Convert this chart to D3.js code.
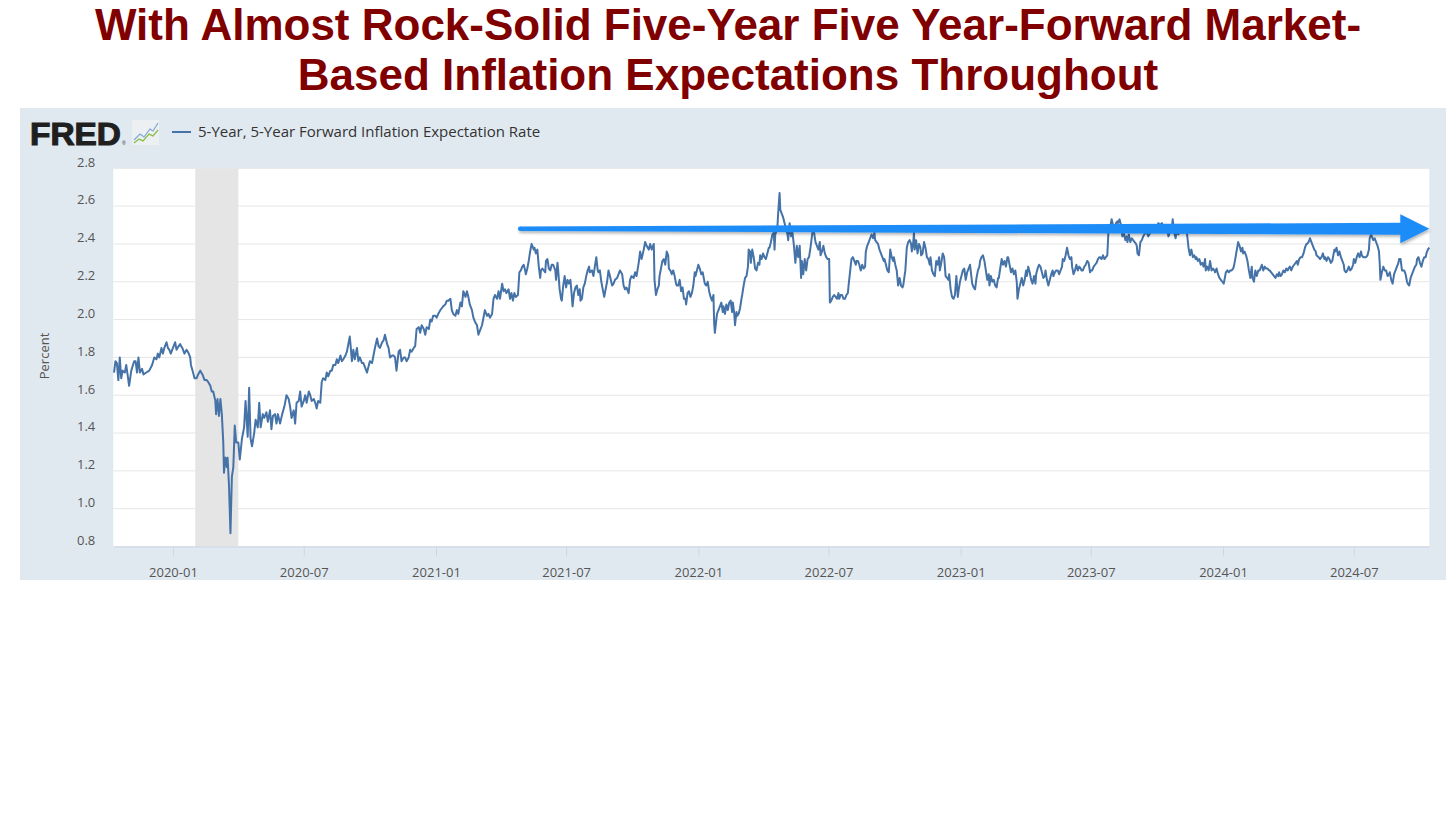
<!DOCTYPE html>
<html>
<head>
<meta charset="utf-8">
<script src="https://cdn.jsdelivr.net/npm/d3@7"></script>
<style>
  body { margin: 0; background: #fff; }
  .axis text { font-family: 'Open Sans', sans-serif; font-size: 13px; fill: #555; }
  .axis .domain { stroke: #ccd6eb; }
  .x.axis .tick line { stroke: #ccd6eb; }
</style>
</head>
<body>
<div class="chart-fred"></div>
<script>
// headline over the chart
const titleLines = [
  'With Almost Rock-Solid Five-Year Five Year-Forward Market-',
  'Based Inflation Expectations Throughout',
];

const seriesName = '5-Year, 5-Year Forward Inflation Expectation Rate';
const yLabel = 'Percent';

// axis ticks as shown
const yTicks = [0.8, 1.0, 1.2, 1.4, 1.6, 1.8, 2.0, 2.2, 2.4, 2.6, 2.8];
const xTickLabels = ['2020-01', '2020-07', '2021-01', '2021-07', '2022-01',
  '2022-07', '2023-01', '2023-07', '2024-01', '2024-07'];
const xDomain = ['2019-10-10', '2024-10-14'];

// shaded recession (start, end)
const recessions = [['2020-02-01', '2020-04-01']];

// hand-drawn arrow: from date to date at a level
const arrowFrom = ['2021-04-28', 2.48];
const arrowTo = ['2024-10-14', 2.48];

// T5YIFR (date, percent)
const observations = [
  ['2019-10-11', 1.72], ['2019-10-13', 1.78], ['2019-10-15', 1.77], ['2019-10-17', 1.68], ['2019-10-19', 1.80],
  ['2019-10-21', 1.69], ['2019-10-23', 1.73], ['2019-10-26', 1.72], ['2019-10-28', 1.76], ['2019-11-01', 1.65],
  ['2019-11-04', 1.73], ['2019-11-08', 1.78], ['2019-11-10', 1.78], ['2019-11-12', 1.72], ['2019-11-14', 1.80],
  ['2019-11-16', 1.72], ['2019-11-19', 1.74], ['2019-11-21', 1.71], ['2019-11-25', 1.72], ['2019-11-29', 1.73],
  ['2019-12-03', 1.76], ['2019-12-06', 1.80], ['2019-12-09', 1.79], ['2019-12-11', 1.82], ['2019-12-13', 1.80],
  ['2019-12-16', 1.85], ['2019-12-18', 1.82], ['2019-12-20', 1.85], ['2019-12-23', 1.88], ['2019-12-25', 1.85],
  ['2019-12-27', 1.84], ['2019-12-29', 1.82], ['2020-01-01', 1.85], ['2020-01-04', 1.88], ['2020-01-06', 1.84],
  ['2020-01-09', 1.86], ['2020-01-11', 1.87], ['2020-01-14', 1.85], ['2020-01-17', 1.82], ['2020-01-20', 1.84],
  ['2020-01-23', 1.82], ['2020-01-25', 1.80], ['2020-01-26', 1.76], ['2020-01-29', 1.72], ['2020-01-31', 1.69],
  ['2020-02-03', 1.69], ['2020-02-05', 1.71], ['2020-02-08', 1.73], ['2020-02-11', 1.71], ['2020-02-14', 1.68],
  ['2020-02-17', 1.68], ['2020-02-19', 1.67], ['2020-02-22', 1.65], ['2020-02-24', 1.62], ['2020-02-26', 1.62],
  ['2020-02-29', 1.57], ['2020-03-01', 1.50], ['2020-03-03', 1.58], ['2020-03-05', 1.49], ['2020-03-07', 1.58],
  ['2020-03-09', 1.50], ['2020-03-11', 1.35], ['2020-03-12', 1.19], ['2020-03-14', 1.27], ['2020-03-16', 1.22],
  ['2020-03-17', 1.27], ['2020-03-19', 1.12], ['2020-03-21', 0.87], ['2020-03-23', 1.17], ['2020-03-25', 1.22],
  ['2020-03-27', 1.44], ['2020-03-29', 1.35], ['2020-04-01', 1.35], ['2020-04-03', 1.26], ['2020-04-06', 1.37],
  ['2020-04-09', 1.43], ['2020-04-11', 1.57], ['2020-04-14', 1.38], ['2020-04-16', 1.64], ['2020-04-18', 1.37],
  ['2020-04-20', 1.33], ['2020-04-23', 1.40], ['2020-04-25', 1.47], ['2020-04-28', 1.43], ['2020-04-30', 1.56],
  ['2020-05-02', 1.43], ['2020-05-05', 1.50], ['2020-05-07', 1.48], ['2020-05-10', 1.51], ['2020-05-12', 1.46],
  ['2020-05-15', 1.52], ['2020-05-17', 1.42], ['2020-05-19', 1.49], ['2020-05-22', 1.50], ['2020-05-24', 1.45],
  ['2020-05-26', 1.50], ['2020-05-29', 1.45], ['2020-06-01', 1.50], ['2020-06-04', 1.54], ['2020-06-07', 1.60],
  ['2020-06-10', 1.58], ['2020-06-12', 1.54], ['2020-06-14', 1.48], ['2020-06-17', 1.52], ['2020-06-19', 1.45],
  ['2020-06-21', 1.56], ['2020-06-24', 1.57], ['2020-06-26', 1.62], ['2020-06-28', 1.54], ['2020-07-01', 1.57],
  ['2020-07-03', 1.60], ['2020-07-05', 1.56], ['2020-07-08', 1.62], ['2020-07-10', 1.60], ['2020-07-12', 1.57],
  ['2020-07-15', 1.58], ['2020-07-17', 1.56], ['2020-07-19', 1.53], ['2020-07-21', 1.57], ['2020-07-24', 1.56],
  ['2020-07-26', 1.67], ['2020-07-28', 1.69], ['2020-07-31', 1.68], ['2020-08-02', 1.72], ['2020-08-04', 1.70],
  ['2020-08-07', 1.73], ['2020-08-09', 1.73], ['2020-08-11', 1.76], ['2020-08-14', 1.76], ['2020-08-16', 1.79],
  ['2020-08-18', 1.77], ['2020-08-21', 1.81], ['2020-08-23', 1.78], ['2020-08-25', 1.79], ['2020-08-28', 1.81],
  ['2020-08-30', 1.83], ['2020-09-01', 1.87], ['2020-09-03', 1.91], ['2020-09-04', 1.87], ['2020-09-06', 1.78],
  ['2020-09-08', 1.84], ['2020-09-10', 1.79], ['2020-09-13', 1.85], ['2020-09-15', 1.78], ['2020-09-17', 1.80],
  ['2020-09-20', 1.77], ['2020-09-22', 1.77], ['2020-09-24', 1.75], ['2020-09-27', 1.72], ['2020-09-29', 1.75],
  ['2020-10-01', 1.78], ['2020-10-04', 1.77], ['2020-10-06', 1.81], ['2020-10-08', 1.85], ['2020-10-11', 1.90],
  ['2020-10-13', 1.86], ['2020-10-15', 1.85], ['2020-10-18', 1.88], ['2020-10-20', 1.89], ['2020-10-22', 1.92],
  ['2020-10-25', 1.87], ['2020-10-27', 1.85], ['2020-10-29', 1.80], ['2020-11-01', 1.81], ['2020-11-03', 1.81],
  ['2020-11-05', 1.80], ['2020-11-07', 1.73], ['2020-11-10', 1.83], ['2020-11-12', 1.84], ['2020-11-14', 1.78],
  ['2020-11-17', 1.80], ['2020-11-19', 1.80], ['2020-11-21', 1.78], ['2020-11-24', 1.80], ['2020-11-26', 1.84],
  ['2020-11-28', 1.83], ['2020-12-01', 1.85], ['2020-12-03', 1.86], ['2020-12-05', 1.95], ['2020-12-08', 1.96],
  ['2020-12-10', 1.93], ['2020-12-12', 1.97], ['2020-12-15', 1.95], ['2020-12-17', 1.92], ['2020-12-19', 1.96],
  ['2020-12-22', 1.95], ['2020-12-24', 2.00], ['2020-12-26', 1.99], ['2020-12-28', 2.02], ['2020-12-31', 2.02],
  ['2021-01-02', 2.01], ['2021-01-04', 2.03], ['2021-01-07', 2.05], ['2021-01-09', 2.06], ['2021-01-11', 2.07],
  ['2021-01-14', 2.08], ['2021-01-16', 2.10], ['2021-01-18', 2.10], ['2021-01-21', 2.11], ['2021-01-23', 2.05],
  ['2021-01-25', 2.03], ['2021-01-28', 2.02], ['2021-01-30', 2.05], ['2021-02-01', 2.03], ['2021-02-04', 2.09],
  ['2021-02-06', 2.07], ['2021-02-08', 2.15], ['2021-02-11', 2.12], ['2021-02-13', 2.15], ['2021-02-15', 2.12],
  ['2021-02-17', 2.08], ['2021-02-20', 2.05], ['2021-02-22', 2.01], ['2021-02-24', 1.99], ['2021-02-27', 1.97],
  ['2021-03-01', 1.92], ['2021-03-03', 1.94], ['2021-03-06', 1.97], ['2021-03-08', 2.01], ['2021-03-10', 2.05],
  ['2021-03-13', 2.02], ['2021-03-15', 2.03], ['2021-03-17', 2.01], ['2021-03-20', 2.03], ['2021-03-22', 2.11],
  ['2021-03-24', 2.13], ['2021-03-27', 2.11], ['2021-03-29', 2.15], ['2021-03-31', 2.11], ['2021-04-03', 2.19],
  ['2021-04-05', 2.15], ['2021-04-07', 2.16], ['2021-04-09', 2.14], ['2021-04-12', 2.16], ['2021-04-14', 2.11],
  ['2021-04-16', 2.14], ['2021-04-18', 2.10], ['2021-04-20', 2.14], ['2021-04-22', 2.12], ['2021-04-25', 2.13],
  ['2021-04-27', 2.25], ['2021-04-29', 2.26], ['2021-05-01', 2.28], ['2021-05-03', 2.29], ['2021-05-05', 2.26],
  ['2021-05-06', 2.24], ['2021-05-08', 2.27], ['2021-05-10', 2.31], ['2021-05-12', 2.36], ['2021-05-14', 2.40],
  ['2021-05-17', 2.37], ['2021-05-18', 2.38], ['2021-05-20', 2.35], ['2021-05-22', 2.37], ['2021-05-24', 2.28],
  ['2021-05-26', 2.22], ['2021-05-27', 2.26], ['2021-05-29', 2.27], ['2021-05-31', 2.26], ['2021-06-02', 2.25],
  ['2021-06-03', 2.31], ['2021-06-05', 2.32], ['2021-06-07', 2.27], ['2021-06-09', 2.26], ['2021-06-11', 2.29],
  ['2021-06-13', 2.29], ['2021-06-16', 2.26], ['2021-06-17', 2.21], ['2021-06-19', 2.30], ['2021-06-20', 2.26],
  ['2021-06-22', 2.16], ['2021-06-24', 2.11], ['2021-06-25', 2.10], ['2021-06-27', 2.18], ['2021-06-29', 2.23],
  ['2021-07-01', 2.17], ['2021-07-03', 2.21], ['2021-07-05', 2.19], ['2021-07-07', 2.21], ['2021-07-09', 2.12],
  ['2021-07-10', 2.07], ['2021-07-12', 2.14], ['2021-07-14', 2.17], ['2021-07-16', 2.18], ['2021-07-18', 2.13],
  ['2021-07-20', 2.16], ['2021-07-21', 2.10], ['2021-07-23', 2.11], ['2021-07-25', 2.17], ['2021-07-27', 2.19],
  ['2021-07-29', 2.23], ['2021-07-31', 2.26], ['2021-08-02', 2.28], ['2021-08-03', 2.25], ['2021-08-06', 2.26],
  ['2021-08-08', 2.23], ['2021-08-10', 2.28], ['2021-08-12', 2.33], ['2021-08-14', 2.26], ['2021-08-15', 2.25],
  ['2021-08-17', 2.26], ['2021-08-19', 2.20], ['2021-08-21', 2.16], ['2021-08-23', 2.12], ['2021-08-25', 2.16],
  ['2021-08-27', 2.20], ['2021-08-29', 2.26], ['2021-08-31', 2.23], ['2021-09-03', 2.18], ['2021-09-05', 2.19],
  ['2021-09-07', 2.21], ['2021-09-10', 2.22], ['2021-09-12', 2.24], ['2021-09-14', 2.26], ['2021-09-17', 2.24],
  ['2021-09-19', 2.18], ['2021-09-21', 2.16], ['2021-09-23', 2.17], ['2021-09-26', 2.14], ['2021-09-28', 2.21],
  ['2021-09-30', 2.23], ['2021-10-03', 2.22], ['2021-10-05', 2.25], ['2021-10-07', 2.23], ['2021-10-10', 2.30],
  ['2021-10-12', 2.36], ['2021-10-14', 2.32], ['2021-10-17', 2.37], ['2021-10-19', 2.41], ['2021-10-21', 2.39],
  ['2021-10-24', 2.37], ['2021-10-26', 2.40], ['2021-10-28', 2.37], ['2021-10-31', 2.40], ['2021-11-01', 2.21],
  ['2021-11-03', 2.13], ['2021-11-05', 2.16], ['2021-11-07', 2.18], ['2021-11-08', 2.23], ['2021-11-10', 2.27],
  ['2021-11-12', 2.31], ['2021-11-14', 2.32], ['2021-11-16', 2.29], ['2021-11-18', 2.36], ['2021-11-20', 2.34],
  ['2021-11-21', 2.27], ['2021-11-23', 2.26], ['2021-11-25', 2.24], ['2021-11-27', 2.26], ['2021-11-29', 2.23],
  ['2021-12-01', 2.19], ['2021-12-02', 2.18], ['2021-12-04', 2.18], ['2021-12-06', 2.21], ['2021-12-08', 2.15],
  ['2021-12-10', 2.17], ['2021-12-12', 2.11], ['2021-12-14', 2.11], ['2021-12-15', 2.08], ['2021-12-17', 2.14],
  ['2021-12-19', 2.15], ['2021-12-21', 2.12], ['2021-12-23', 2.14], ['2021-12-25', 2.18], ['2021-12-27', 2.25],
  ['2021-12-28', 2.23], ['2021-12-30', 2.26], ['2022-01-01', 2.29], ['2022-01-03', 2.27], ['2022-01-05', 2.24],
  ['2022-01-07', 2.25], ['2022-01-09', 2.21], ['2022-01-10', 2.19], ['2022-01-12', 2.18], ['2022-01-14', 2.20],
  ['2022-01-16', 2.15], ['2022-01-18', 2.12], ['2022-01-20', 2.10], ['2022-01-22', 2.13], ['2022-01-23', 1.98],
  ['2022-01-24', 1.93], ['2022-01-26', 2.00], ['2022-01-27', 2.03], ['2022-01-29', 2.05], ['2022-01-31', 2.07],
  ['2022-02-02', 2.09], ['2022-02-04', 2.04], ['2022-02-05', 2.07], ['2022-02-07', 2.03], ['2022-02-09', 2.08],
  ['2022-02-11', 2.05], ['2022-02-13', 2.09], ['2022-02-15', 2.10], ['2022-02-17', 2.04], ['2022-02-18', 2.09],
  ['2022-02-20', 2.03], ['2022-02-21', 1.97], ['2022-02-23', 2.04], ['2022-02-24', 2.02], ['2022-02-26', 2.03],
  ['2022-02-28', 2.06], ['2022-03-02', 2.11], ['2022-03-03', 2.13], ['2022-03-05', 2.18], ['2022-03-07', 2.22],
  ['2022-03-09', 2.23], ['2022-03-11', 2.28], ['2022-03-12', 2.37], ['2022-03-14', 2.36], ['2022-03-15', 2.30],
  ['2022-03-17', 2.37], ['2022-03-19', 2.33], ['2022-03-21', 2.27], ['2022-03-23', 2.26], ['2022-03-25', 2.30],
  ['2022-03-27', 2.29], ['2022-03-28', 2.34], ['2022-03-30', 2.32], ['2022-04-01', 2.35], ['2022-04-03', 2.33],
  ['2022-04-05', 2.32], ['2022-04-07', 2.35], ['2022-04-09', 2.38], ['2022-04-10', 2.38], ['2022-04-12', 2.41],
  ['2022-04-14', 2.45], ['2022-04-16', 2.46], ['2022-04-17', 2.37], ['2022-04-18', 2.45], ['2022-04-20', 2.47],
  ['2022-04-21', 2.49], ['2022-04-22', 2.56], ['2022-04-24', 2.67], ['2022-04-25', 2.58], ['2022-04-27', 2.56],
  ['2022-04-29', 2.54], ['2022-05-01', 2.51], ['2022-05-03', 2.48], ['2022-05-05', 2.45], ['2022-05-06', 2.42],
  ['2022-05-08', 2.51], ['2022-05-10', 2.44], ['2022-05-12', 2.46], ['2022-05-14', 2.39], ['2022-05-16', 2.30],
  ['2022-05-18', 2.39], ['2022-05-20', 2.33], ['2022-05-22', 2.39], ['2022-05-24', 2.22], ['2022-05-25', 2.31],
  ['2022-05-27', 2.24], ['2022-05-29', 2.32], ['2022-05-31', 2.26], ['2022-06-02', 2.32], ['2022-06-04', 2.33],
  ['2022-06-06', 2.38], ['2022-06-07', 2.41], ['2022-06-09', 2.47], ['2022-06-11', 2.46], ['2022-06-13', 2.41],
  ['2022-06-15', 2.39], ['2022-06-17', 2.37], ['2022-06-19', 2.41], ['2022-06-20', 2.34], ['2022-06-22', 2.36],
  ['2022-06-24', 2.39], ['2022-06-26', 2.35], ['2022-06-28', 2.33], ['2022-06-30', 2.32], ['2022-07-02', 2.32],
  ['2022-07-03', 2.09], ['2022-07-05', 2.10], ['2022-07-07', 2.12], ['2022-07-09', 2.13], ['2022-07-11', 2.12],
  ['2022-07-13', 2.11], ['2022-07-15', 2.14], ['2022-07-16', 2.11], ['2022-07-18', 2.13], ['2022-07-20', 2.13],
  ['2022-07-22', 2.11], ['2022-07-24', 2.11], ['2022-07-26', 2.13], ['2022-07-28', 2.14], ['2022-07-29', 2.18],
  ['2022-07-31', 2.25], ['2022-08-02', 2.32], ['2022-08-04', 2.33], ['2022-08-06', 2.31], ['2022-08-08', 2.29],
  ['2022-08-09', 2.31], ['2022-08-11', 2.31], ['2022-08-13', 2.29], ['2022-08-15', 2.26], ['2022-08-17', 2.29],
  ['2022-08-19', 2.27], ['2022-08-21', 2.28], ['2022-08-22', 2.36], ['2022-08-24', 2.39], ['2022-08-26', 2.41],
  ['2022-08-28', 2.43], ['2022-08-30', 2.45], ['2022-09-01', 2.43], ['2022-09-03', 2.46], ['2022-09-04', 2.42],
  ['2022-09-06', 2.41], ['2022-09-08', 2.40], ['2022-09-10', 2.37], ['2022-09-12', 2.35], ['2022-09-14', 2.33],
  ['2022-09-16', 2.31], ['2022-09-17', 2.32], ['2022-09-19', 2.29], ['2022-09-21', 2.26], ['2022-09-23', 2.25],
  ['2022-09-25', 2.37], ['2022-09-27', 2.33], ['2022-09-29', 2.31], ['2022-09-30', 2.33], ['2022-10-02', 2.29],
  ['2022-10-04', 2.26], ['2022-10-06', 2.18], ['2022-10-08', 2.22], ['2022-10-10', 2.18], ['2022-10-12', 2.17],
  ['2022-10-13', 2.18], ['2022-10-16', 2.26], ['2022-10-18', 2.38], ['2022-10-20', 2.41], ['2022-10-22', 2.42],
  ['2022-10-24', 2.40], ['2022-10-25', 2.36], ['2022-10-27', 2.41], ['2022-10-28', 2.46], ['2022-10-29', 2.37],
  ['2022-10-31', 2.42], ['2022-11-02', 2.35], ['2022-11-04', 2.40], ['2022-11-06', 2.38], ['2022-11-07', 2.34],
  ['2022-11-09', 2.35], ['2022-11-11', 2.41], ['2022-11-13', 2.38], ['2022-11-15', 2.33], ['2022-11-17', 2.32],
  ['2022-11-19', 2.29], ['2022-11-20', 2.33], ['2022-11-22', 2.26], ['2022-11-24', 2.24], ['2022-11-26', 2.23],
  ['2022-11-28', 2.31], ['2022-11-30', 2.29], ['2022-12-02', 2.33], ['2022-12-03', 2.26], ['2022-12-05', 2.30],
  ['2022-12-07', 2.35], ['2022-12-09', 2.33], ['2022-12-11', 2.23], ['2022-12-13', 2.22], ['2022-12-15', 2.21],
  ['2022-12-16', 2.24], ['2022-12-18', 2.16], ['2022-12-20', 2.12], ['2022-12-22', 2.11], ['2022-12-24', 2.13],
  ['2022-12-26', 2.23], ['2022-12-28', 2.12], ['2022-12-29', 2.15], ['2022-12-31', 2.20], ['2023-01-02', 2.23],
  ['2023-01-04', 2.26], ['2023-01-06', 2.27], ['2023-01-08', 2.21], ['2023-01-10', 2.25], ['2023-01-12', 2.27],
  ['2023-01-14', 2.29], ['2023-01-17', 2.19], ['2023-01-19', 2.17], ['2023-01-21', 2.16], ['2023-01-23', 2.22],
  ['2023-01-25', 2.26], ['2023-01-27', 2.28], ['2023-01-28', 2.31], ['2023-01-30', 2.33], ['2023-02-01', 2.34],
  ['2023-02-03', 2.31], ['2023-02-05', 2.26], ['2023-02-07', 2.21], ['2023-02-09', 2.24], ['2023-02-10', 2.18],
  ['2023-02-12', 2.23], ['2023-02-14', 2.20], ['2023-02-16', 2.21], ['2023-02-18', 2.18], ['2023-02-20', 2.17],
  ['2023-02-22', 2.22], ['2023-02-23', 2.22], ['2023-02-25', 2.27], ['2023-02-27', 2.32], ['2023-03-01', 2.29],
  ['2023-03-03', 2.31], ['2023-03-05', 2.28], ['2023-03-07', 2.33], ['2023-03-08', 2.33], ['2023-03-10', 2.29],
  ['2023-03-12', 2.25], ['2023-03-14', 2.27], ['2023-03-16', 2.24], ['2023-03-18', 2.26], ['2023-03-20', 2.20],
  ['2023-03-21', 2.11], ['2023-03-23', 2.16], ['2023-03-25', 2.19], ['2023-03-27', 2.22], ['2023-03-29', 2.18],
  ['2023-03-31', 2.21], ['2023-04-02', 2.26], ['2023-04-03', 2.23], ['2023-04-05', 2.28], ['2023-04-07', 2.25],
  ['2023-04-09', 2.21], ['2023-04-11', 2.19], ['2023-04-13', 2.23], ['2023-04-15', 2.19], ['2023-04-16', 2.24],
  ['2023-04-18', 2.27], ['2023-04-20', 2.29], ['2023-04-22', 2.28], ['2023-04-24', 2.25], ['2023-04-26', 2.22],
  ['2023-04-28', 2.23], ['2023-04-29', 2.26], ['2023-05-01', 2.21], ['2023-05-03', 2.18], ['2023-05-05', 2.21],
  ['2023-05-07', 2.24], ['2023-05-09', 2.26], ['2023-05-10', 2.23], ['2023-05-12', 2.25], ['2023-05-14', 2.26],
  ['2023-05-16', 2.26], ['2023-05-18', 2.24], ['2023-05-20', 2.26], ['2023-05-22', 2.28], ['2023-05-23', 2.32],
  ['2023-05-25', 2.31], ['2023-05-27', 2.34], ['2023-05-29', 2.38], ['2023-05-31', 2.34], ['2023-06-02', 2.32],
  ['2023-06-04', 2.33], ['2023-06-05', 2.28], ['2023-06-07', 2.24], ['2023-06-09', 2.26], ['2023-06-11', 2.29],
  ['2023-06-13', 2.26], ['2023-06-15', 2.28], ['2023-06-17', 2.27], ['2023-06-18', 2.26], ['2023-06-20', 2.26],
  ['2023-06-22', 2.28], ['2023-06-24', 2.29], ['2023-06-26', 2.31], ['2023-06-28', 2.30], ['2023-06-30', 2.25],
  ['2023-07-01', 2.26], ['2023-07-03', 2.26], ['2023-07-05', 2.28], ['2023-07-07', 2.29], ['2023-07-09', 2.30],
  ['2023-07-11', 2.32], ['2023-07-13', 2.33], ['2023-07-14', 2.33], ['2023-07-16', 2.32], ['2023-07-18', 2.34],
  ['2023-07-20', 2.32], ['2023-07-22', 2.33], ['2023-07-24', 2.34], ['2023-07-26', 2.50], ['2023-07-27', 2.47],
  ['2023-07-29', 2.51], ['2023-07-30', 2.53], ['2023-08-01', 2.50], ['2023-08-03', 2.48], ['2023-08-05', 2.51],
  ['2023-08-07', 2.52], ['2023-08-08', 2.51], ['2023-08-10', 2.53], ['2023-08-12', 2.50], ['2023-08-14', 2.44],
  ['2023-08-16', 2.46], ['2023-08-18', 2.42], ['2023-08-20', 2.44], ['2023-08-21', 2.41], ['2023-08-23', 2.45],
  ['2023-08-25', 2.41], ['2023-08-27', 2.43], ['2023-08-29', 2.42], ['2023-08-31', 2.41], ['2023-09-02', 2.40],
  ['2023-09-03', 2.39], ['2023-09-04', 2.35], ['2023-09-06', 2.34], ['2023-09-08', 2.41], ['2023-09-10', 2.42],
  ['2023-09-12', 2.44], ['2023-09-15', 2.46], ['2023-09-17', 2.46], ['2023-09-19', 2.44], ['2023-09-22', 2.46],
  ['2023-09-24', 2.48], ['2023-09-26', 2.47], ['2023-09-29', 2.48], ['2023-10-01', 2.48], ['2023-10-03', 2.51],
  ['2023-10-05', 2.50], ['2023-10-08', 2.51], ['2023-10-10', 2.49], ['2023-10-12', 2.48], ['2023-10-15', 2.49],
  ['2023-10-17', 2.44], ['2023-10-19', 2.46], ['2023-10-22', 2.49], ['2023-10-23', 2.53], ['2023-10-25', 2.46],
  ['2023-10-27', 2.43], ['2023-10-29', 2.48], ['2023-10-31', 2.45], ['2023-11-01', 2.48], ['2023-11-03', 2.46],
  ['2023-11-05', 2.47], ['2023-11-07', 2.46], ['2023-11-09', 2.47], ['2023-11-11', 2.46], ['2023-11-12', 2.45],
  ['2023-11-14', 2.38], ['2023-11-16', 2.34], ['2023-11-18', 2.37], ['2023-11-20', 2.33], ['2023-11-22', 2.34],
  ['2023-11-24', 2.32], ['2023-11-25', 2.33], ['2023-11-27', 2.31], ['2023-11-29', 2.32], ['2023-12-01', 2.29],
  ['2023-12-03', 2.30], ['2023-12-05', 2.28], ['2023-12-07', 2.32], ['2023-12-08', 2.26], ['2023-12-10', 2.28],
  ['2023-12-12', 2.26], ['2023-12-14', 2.31], ['2023-12-16', 2.26], ['2023-12-18', 2.27], ['2023-12-20', 2.26],
  ['2023-12-21', 2.25], ['2023-12-23', 2.27], ['2023-12-25', 2.24], ['2023-12-27', 2.22], ['2023-12-29', 2.21],
  ['2023-12-31', 2.20], ['2024-01-02', 2.19], ['2024-01-03', 2.21], ['2024-01-05', 2.25], ['2024-01-07', 2.26],
  ['2024-01-09', 2.25], ['2024-01-11', 2.26], ['2024-01-13', 2.26], ['2024-01-15', 2.27], ['2024-01-16', 2.28],
  ['2024-01-18', 2.32], ['2024-01-22', 2.41], ['2024-01-24', 2.39], ['2024-01-26', 2.36], ['2024-01-28', 2.38],
  ['2024-01-29', 2.35], ['2024-01-31', 2.36], ['2024-02-02', 2.34], ['2024-02-04', 2.31], ['2024-02-06', 2.26],
  ['2024-02-08', 2.22], ['2024-02-10', 2.28], ['2024-02-11', 2.22], ['2024-02-13', 2.20], ['2024-02-15', 2.26],
  ['2024-02-17', 2.23], ['2024-02-19', 2.26], ['2024-02-21', 2.26], ['2024-02-23', 2.28], ['2024-02-24', 2.29],
  ['2024-02-26', 2.26], ['2024-02-28', 2.28], ['2024-03-01', 2.27], ['2024-03-03', 2.27], ['2024-03-05', 2.26],
  ['2024-03-06', 2.26], ['2024-03-08', 2.25], ['2024-03-10', 2.24], ['2024-03-12', 2.23], ['2024-03-14', 2.22],
  ['2024-03-16', 2.24], ['2024-03-18', 2.23], ['2024-03-19', 2.25], ['2024-03-21', 2.23], ['2024-03-23', 2.24],
  ['2024-03-25', 2.26], ['2024-03-27', 2.25], ['2024-03-29', 2.27], ['2024-03-31', 2.26], ['2024-04-01', 2.27],
  ['2024-04-03', 2.28], ['2024-04-05', 2.26], ['2024-04-07', 2.28], ['2024-04-09', 2.29], ['2024-04-11', 2.30],
  ['2024-04-13', 2.31], ['2024-04-14', 2.29], ['2024-04-16', 2.32], ['2024-04-18', 2.33], ['2024-04-20', 2.33],
  ['2024-04-22', 2.35], ['2024-04-24', 2.38], ['2024-04-26', 2.40], ['2024-04-27', 2.40], ['2024-04-29', 2.41],
  ['2024-05-01', 2.43], ['2024-05-03', 2.41], ['2024-05-05', 2.39], ['2024-05-07', 2.37], ['2024-05-09', 2.36],
  ['2024-05-10', 2.34], ['2024-05-13', 2.33], ['2024-05-15', 2.32], ['2024-05-17', 2.33], ['2024-05-19', 2.35],
  ['2024-05-21', 2.32], ['2024-05-22', 2.33], ['2024-05-24', 2.31], ['2024-05-26', 2.33], ['2024-05-28', 2.32],
  ['2024-05-30', 2.30], ['2024-06-01', 2.31], ['2024-06-04', 2.37], ['2024-06-05', 2.36], ['2024-06-07', 2.38],
  ['2024-06-09', 2.34], ['2024-06-11', 2.36], ['2024-06-13', 2.33], ['2024-06-15', 2.31], ['2024-06-17', 2.29],
  ['2024-06-18', 2.26], ['2024-06-20', 2.25], ['2024-06-22', 2.26], ['2024-06-24', 2.28], ['2024-06-26', 2.26],
  ['2024-06-28', 2.27], ['2024-06-30', 2.29], ['2024-07-01', 2.32], ['2024-07-03', 2.30], ['2024-07-05', 2.33],
  ['2024-07-07', 2.35], ['2024-07-09', 2.33], ['2024-07-11', 2.36], ['2024-07-12', 2.34], ['2024-07-14', 2.33],
  ['2024-07-16', 2.33], ['2024-07-18', 2.33], ['2024-07-20', 2.34], ['2024-07-22', 2.37], ['2024-07-23', 2.43],
  ['2024-07-25', 2.45], ['2024-07-26', 2.44], ['2024-07-28', 2.42], ['2024-07-30', 2.43], ['2024-08-01', 2.41],
  ['2024-08-03', 2.39], ['2024-08-05', 2.36], ['2024-08-06', 2.30], ['2024-08-07', 2.21], ['2024-08-09', 2.25],
  ['2024-08-11', 2.28], ['2024-08-13', 2.26], ['2024-08-15', 2.26], ['2024-08-17', 2.23], ['2024-08-19', 2.24],
  ['2024-08-20', 2.25], ['2024-08-22', 2.21], ['2024-08-24', 2.19], ['2024-08-26', 2.24], ['2024-08-28', 2.26],
  ['2024-08-30', 2.28], ['2024-09-01', 2.30], ['2024-09-02', 2.32], ['2024-09-04', 2.32], ['2024-09-06', 2.26],
  ['2024-09-09', 2.26], ['2024-09-11', 2.24], ['2024-09-13', 2.20], ['2024-09-14', 2.19], ['2024-09-16', 2.18],
  ['2024-09-18', 2.22], ['2024-09-20', 2.24], ['2024-09-22', 2.26], ['2024-09-24', 2.28], ['2024-09-26', 2.29],
  ['2024-09-27', 2.32], ['2024-09-29', 2.33], ['2024-10-01', 2.30], ['2024-10-03', 2.28], ['2024-10-05', 2.31],
  ['2024-10-07', 2.33], ['2024-10-09', 2.33], ['2024-10-10', 2.35], ['2024-10-12', 2.37], ['2024-10-14', 2.38],
];

const parseDate = d3.timeParse('%Y-%m-%d');
const parseMonth = d3.timeParse('%Y-%m');

function createChart(divName, data, margin, widthBase, heightBase) {
  const width = widthBase - margin.left - margin.right,
    height = heightBase - margin.top - margin.bottom;

  var root = d3.select(`.${divName}`).append('svg')
    .attr('width', 1456)
    .attr('height', 822);

  var defs = root.append('defs');
  defs.append('filter')
    .attr('id', 'arrow-shadow')
    .attr('x', '-5%').attr('y', '-50%')
    .attr('width', '110%').attr('height', '200%')
    .append('feDropShadow')
    .attr('dx', 1).attr('dy', 2)
    .attr('stdDeviation', 1.6)
    .attr('flood-color', '#000')
    .attr('flood-opacity', 0.3);

  // headline, first baseline low enough to keep the ascent on the page
  root.selectAll('.headline')
    .data(titleLines)
    .enter()
    .append('text')
    .attr('class', 'headline')
    .attr('x', 728)
    .attr('y', (d, i) => 40 + i * 50)
    .attr('text-anchor', 'middle')
    .style('font-family', "'Liberation Sans', Arial, sans-serif")
    .style('font-weight', 'bold')
    .style('font-size', '44px')
    .style('fill', '#800000')
    .text((d) => d);

  // fred panel
  root.append('rect')
    .attr('x', 20)
    .attr('y', 108)
    .attr('width', 1426)
    .attr('height', 472)
    .attr('fill', '#e1e9f0');

  // logo
  root.append('text')
    .attr('x', 30)
    .attr('y', 145)
    .attr('textLength', 91)
    .attr('lengthAdjust', 'spacingAndGlyphs')
    .style('font-family', "'Liberation Sans', Arial, sans-serif")
    .style('font-weight', 'bold')
    .style('font-size', '31px')
    .style('fill', '#1f1f1f')
    .style('stroke', '#1f1f1f')
    .style('stroke-width', 1.1)
    .text('FRED');
  root.append('text')
    .attr('x', 122)
    .attr('y', 145)
    .style('font-family', "'Liberation Sans', Arial, sans-serif")
    .style('font-size', '5px')
    .style('fill', '#1f1f1f')
    .text('®');

  var icon = root.append('g').attr('transform', 'translate(132,120)');
  icon.append('rect')
    .attr('width', 27).attr('height', 25)
    .attr('fill', '#edf0f3');
  icon.append('path')
    .attr('d', 'M2,20 L8,14 L12,17 L18,9 L21,11 L26,3')
    .attr('fill', 'none').attr('stroke', '#7fa6d8').attr('stroke-width', 1.2);
  icon.append('path')
    .attr('d', 'M2,23 L7,19 L11,21 L17,14 L21,16 L26,10')
    .attr('fill', 'none').attr('stroke', '#8cbf4a').attr('stroke-width', 1.4);

  // legend
  root.append('line')
    .attr('x1', 172).attr('x2', 191)
    .attr('y1', 132).attr('y2', 132)
    .attr('stroke', '#4572a7')
    .attr('stroke-width', 2);
  root.append('text')
    .attr('x', 198)
    .attr('y', 137)
    .style('font-family', "'Open Sans', sans-serif")
    .style('font-size', '15px')
    .style('fill', '#333')
    .text(seriesName);

  var svg = root.append('g')
    .attr('transform', 'translate(' + margin.left + ',' + margin.top + ')');

  var x = d3.scaleTime()
    .range([0, width])
    .domain(xDomain.map(parseDate));

  var y = d3.scaleLinear()
    .range([height, 0])
    .domain([d3.min(yTicks), d3.max(yTicks)]);

  // white plot area
  svg.append('rect')
    .attr('width', width)
    .attr('height', height)
    .attr('fill', '#fff');

  // gridlines
  svg.selectAll('.grid')
    .data(yTicks)
    .enter()
    .append('line')
    .attr('class', 'grid')
    .attr('x1', 0)
    .attr('x2', width)
    .attr('y1', (d) => y(d))
    .attr('y2', (d) => y(d))
    .attr('stroke', '#e6e6e6')
    .attr('stroke-width', 1);

  // recession shading
  svg.selectAll('.recession')
    .data(recessions)
    .enter()
    .append('rect')
    .attr('class', 'recession')
    .attr('x', (d) => x(parseDate(d[0])))
    .attr('width', (d) => x(parseDate(d[1])) - x(parseDate(d[0])))
    .attr('y', 0)
    .attr('height', height)
    .attr('fill', '#e5e5e5');

  //y axis, labels sit just above the gridline
  var yAxis = d3.axisLeft()
    .scale(y)
    .tickValues(yTicks)
    .tickFormat(d3.format('.1f'))
    .tickSize(0)
    .tickPadding(18);

  svg.append('g')
    .attr('class', 'y axis')
    .call(yAxis)
    .call((g) => g.select('.domain').remove())
    .selectAll('text')
    .attr('dy', '-0.17em');

  var xAxis = d3.axisBottom()
    .scale(x)
    .tickValues(xTickLabels.map(parseMonth))
    .tickFormat(d3.timeFormat('%Y-%m'))
    .tickSizeInner(10)
    .tickSizeOuter(0)
    .tickPadding(11);

  svg.append('g')
    .attr('class', 'x axis')
    .attr('transform', 'translate(0,' + height + ')')
    .call(xAxis);

  svg.append('text')
    .attr('transform', 'translate(' + (44 - margin.left) + ',' + (356 - margin.top) + ') rotate(-90)')
    .attr('text-anchor', 'middle')
    .attr('dy', '0.35em')
    .style('font-family', "'Open Sans', sans-serif")
    .style('font-size', '13px')
    .style('fill', '#555')
    .text(yLabel);

  // the series
  var line = d3.line()
    .x((d) => x(d.date))
    .y((d) => y(d.value));

  svg.append('path')
    .datum(data)
    .attr('fill', 'none')
    .attr('stroke', '#4572a7')
    .attr('stroke-width', 2)
    .attr('stroke-linejoin', 'round')
    .attr('d', line);

  // arrow annotation, shaft widens toward the head
  const ax0 = x(parseDate(arrowFrom[0])),
    ax1 = x(parseDate(arrowTo[0])),
    ay0 = y(arrowFrom[1]),
    ay1 = y(arrowTo[1]);
  const headLen = 29, headHalf = 14.5, tail = 2.2, neck = 6;
  const pts = [
    [ax0, ay0 - tail],
    [ax1 - headLen, ay1 - neck],
    [ax1 - headLen, ay1 - headHalf],
    [ax1, ay1],
    [ax1 - headLen, ay1 + headHalf],
    [ax1 - headLen, ay1 + neck],
    [ax0, ay0 + tail],
  ];
  var arrow = svg.append('g').attr('filter', 'url(#arrow-shadow)');
  arrow.append('polygon')
    .attr('points', pts.map((p) => p.join(',')).join(' '))
    .attr('fill', '#1d8cf8');
  arrow.append('circle')
    .attr('cx', ax0)
    .attr('cy', ay0)
    .attr('r', tail)
    .attr('fill', '#1d8cf8');
}

const series = observations.map((d) => {
  return { date: parseDate(d[0]), value: d[1] };
});

const margin = {
  top: 168.3,
  right: 26.7,
  bottom: 275.5,
  left: 113.3, // for labels
};

createChart('chart-fred', series, margin, 1456, 822);
</script>
</body>
</html>
